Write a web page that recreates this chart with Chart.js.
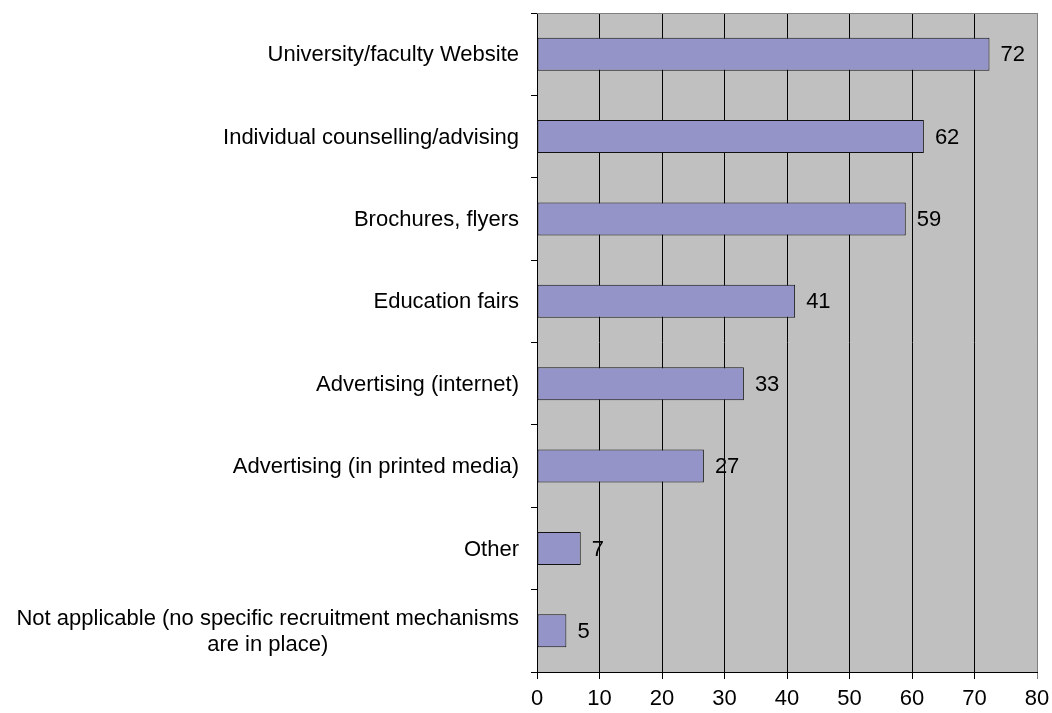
<!DOCTYPE html>
<html>
<head>
<meta charset="utf-8">
<script src="https://cdn.jsdelivr.net/npm/chart.js@4"></script>
<style>
html,body{margin:0;padding:0;background:#fff;}
#wrap{width:1052px;height:713px;}
</style>
</head>
<body>
<div id="wrap"><canvas id="c" width="1052" height="713"></canvas></div>
<script>
const categories = [
  "University/faculty Website",
  "Individual counselling/advising",
  "Brochures, flyers",
  "Education fairs",
  "Advertising (internet)",
  "Advertising (in printed media)",
  "Other",
  ["Not applicable (no specific recruitment mechanisms", "are in place)"]
];
const values = [72.4, 61.9, 59.0, 41.3, 33.1, 26.7, 7.0, 4.7];
const xTicks = [0, 10, 20, 30, 40, 50, 60, 70, 80];

const FONT = "'Liberation Sans', Arial, sans-serif";

const plotBg = {
  id: 'plotBg',
  beforeDraw(chart) {
    const {ctx, chartArea: a} = chart;
    ctx.save();
    ctx.fillStyle = '#C0C0C0';
    ctx.fillRect(a.left, a.top, a.right - a.left, a.bottom - a.top);
    ctx.restore();
  },
  afterDraw(chart) {
    const {ctx, chartArea: a} = chart;
    ctx.save();
    ctx.strokeStyle = '#808080';
    ctx.lineWidth = 1;
    ctx.beginPath();
    ctx.moveTo(a.left, a.top + 0.5);
    ctx.lineTo(a.right + 0.5, a.top + 0.5);
    ctx.lineTo(a.right + 0.5, a.bottom);
    ctx.stroke();
    ctx.restore();
  }
};

// Category labels: right-aligned block, multi-line labels centred within their block
const catLabels = {
  id: 'catLabels',
  afterDraw(chart) {
    const {ctx} = chart;
    const ys = chart.scales.y;
    const rightEdge = ys.right - 18;
    const lh = 25.3;
    ctx.save();
    ctx.font = '22px ' + FONT;
    ctx.fillStyle = '#000';
    ctx.textBaseline = 'middle';
    ctx.textAlign = 'center';
    chart.data.labels.forEach((lab, i) => {
      const lines = Array.isArray(lab) ? lab : [lab];
      const maxW = Math.max(...lines.map(s => ctx.measureText(s).width));
      const cx = rightEdge - maxW / 2;
      const cy = ys.getPixelForValue(i) + 1;
      lines.forEach((s, k) => {
        ctx.fillText(s, cx, cy + (k - (lines.length - 1) / 2) * lh);
      });
    });
    ctx.restore();
  }
};

const valueLabels = {
  id: 'valueLabels',
  afterDatasetsDraw(chart) {
    const {ctx} = chart;
    const meta = chart.getDatasetMeta(0);
    ctx.save();
    ctx.font = '22px ' + FONT;
    ctx.fillStyle = '#000';
    ctx.textAlign = 'left';
    ctx.textBaseline = 'middle';
    meta.data.forEach((bar, i) => {
      ctx.fillText(String(Math.round(values[i])), bar.x + 11, bar.y + 1);
    });
    ctx.restore();
  }
};

new Chart(document.getElementById('c'), {
  type: 'bar',
  data: {
    labels: categories,
    datasets: [{
      data: values,
      backgroundColor: '#9494C8',
      borderColor: '#111',
      borderWidth: 1,
      borderSkipped: false,
      categoryPercentage: 1,
      barPercentage: 0.4
    }]
  },
  options: {
    indexAxis: 'y',
    responsive: false,
    animation: false,
    layout: {padding: {top: 13, right: 15, bottom: 0, left: 0}},
    plugins: {legend: {display: false}, tooltip: {enabled: false}},
    scales: {
      x: {
        min: 0, max: 80,
        afterBuildTicks(axis) { axis.ticks = xTicks.map(v => ({value: v})); },
        afterFit(axis) { axis.height = 41; axis.paddingLeft = 0; axis.paddingRight = 0; },
        grid: {
          color: ctx => (ctx.tick && ctx.tick.value === 80) ? '#808080' : '#000',
          lineWidth: 1,
          tickLength: 7,
          drawOnChartArea: true,
          drawTicks: true
        },
        border: {color: '#000', width: 1},
        ticks: {
          color: '#000',
          font: {family: FONT, size: 22},
          padding: 7,
          maxRotation: 0
        }
      },
      y: {
        afterFit(axis) { axis.width = 537; axis.paddingTop = 0; axis.paddingBottom = 0; },
        grid: {
          offset: true,
          drawOnChartArea: false,
          drawTicks: true,
          tickLength: 6,
          color: '#000'
        },
        border: {color: '#000', width: 1},
        ticks: {
          color: 'rgba(0,0,0,0)',
          font: {family: FONT, size: 22, lineHeight: 1.15},
          padding: 12
        }
      }
    }
  },
  plugins: [plotBg, valueLabels, catLabels]
});
</script>
</body>
</html>
